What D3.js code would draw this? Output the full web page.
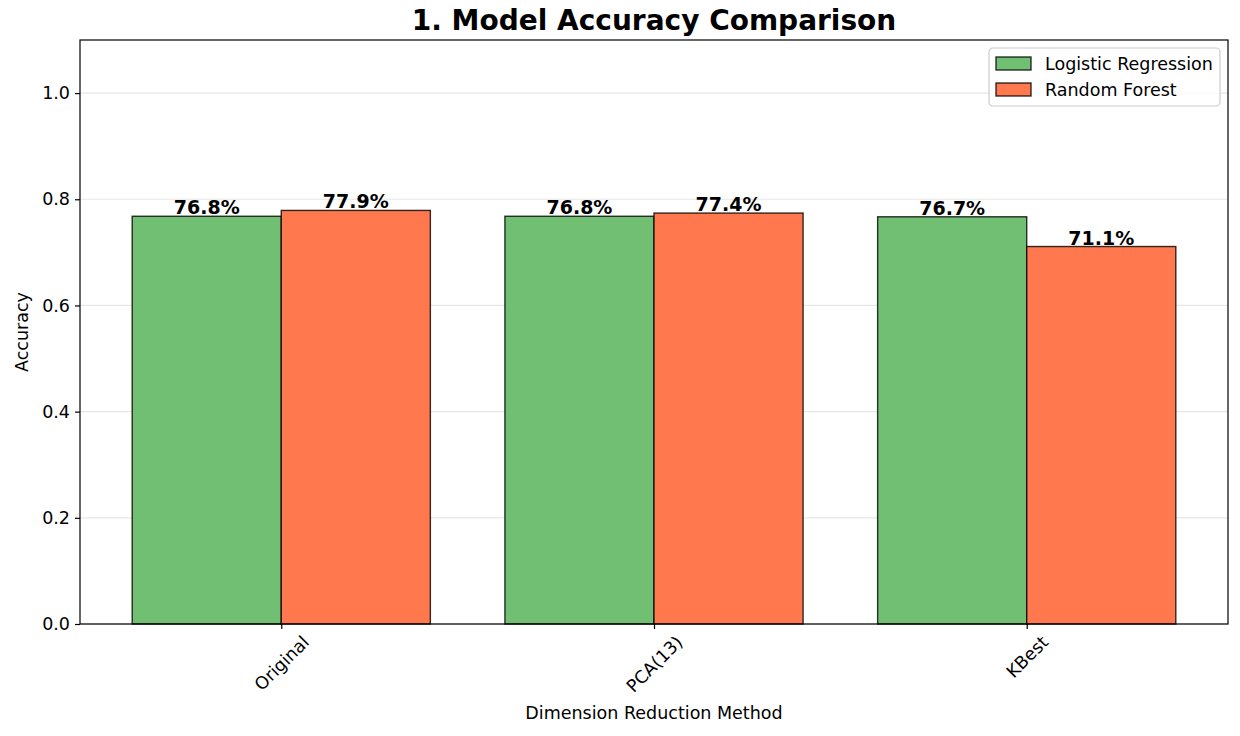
<!DOCTYPE html>
<html>
<head>
<meta charset="utf-8">
<script src="https://cdn.jsdelivr.net/npm/d3@7"></script>
<style>
  body { margin: 0; background: #fff; }
  text { font-family: "DejaVu Sans", sans-serif; }
</style>
</head>
<body>
<svg id="chart" width="1240" height="736"></svg>
<script>
// data
const methods = ["Original", "PCA(13)", "KBest"];
const logisticAcc = [0.768, 0.768, 0.767];
const forestAcc = [0.779, 0.774, 0.711];
const seriesNames = ["Logistic Regression", "Random Forest"];
const yTicks = [0.0, 0.2, 0.4, 0.6, 0.8, 1.0];

const colors = ["#71bf73", "#ff784e"];
const fs = 17.5; // base font size

let margin = {top: 40, right: 12, bottom: 112, left: 80};
let width = 1240 - margin.left - margin.right,
    height = 736 - margin.top - margin.bottom;

let svg = d3.select("#chart"),
    g = svg.append("g").attr("transform", "translate(" + margin.left + "," + margin.top + ")");

// matplotlib-like linear x: bars at 0,1,2, width 0.4, 5% margins
let x = d3.scaleLinear().domain([-0.54, 2.54]).range([0, width]);
let y = d3.scaleLinear().domain([0, 1.1]).range([height, 0]);
let barW = 0.4;

// grid
g.selectAll(".grid").data(yTicks).enter().append("line")
  .attr("x1", 0).attr("x2", width)
  .attr("y1", d => y(d)).attr("y2", d => y(d))
  .attr("stroke", "#b0b0b0").attr("stroke-opacity", 0.3).attr("stroke-width", 1.2);

let series = [logisticAcc, forestAcc];
series.forEach(function(vals, s) {
  let offset = s === 0 ? -barW : 0;
  g.selectAll(".bar" + s).data(vals).enter().append("rect")
    .attr("x", (d, i) => x(i + offset))
    .attr("width", x(barW) - x(0))
    .attr("y", d => y(d))
    .attr("height", d => height - y(d))
    .attr("fill", colors[s])
    .attr("stroke", "#000").attr("stroke-opacity", 0.8).attr("stroke-width", 1.4);

  g.selectAll(".lab" + s).data(vals).enter().append("text")
    .attr("x", (d, i) => x(i + offset + barW / 2))
    .attr("y", d => y(d) - 2)
    .attr("text-anchor", "middle")
    .style("font-size", "19px").style("font-weight", "bold")
    .text(d => (d * 100).toFixed(1) + "%");
});

// frame
g.append("rect").attr("width", width).attr("height", height)
  .attr("fill", "none").attr("stroke", "#000").attr("stroke-width", 1.2);

// y axis
let yAxis = g.append("g")
  .call(d3.axisLeft(y).tickValues(yTicks).tickFormat(d3.format(".1f")).tickSize(5).tickPadding(5));
yAxis.select(".domain").remove();
yAxis.selectAll("text").style("font-size", fs + "px").attr("fill", "#000");
yAxis.selectAll("line").attr("stroke-width", 1.2);

// x axis, rotated labels centred on the tick like matplotlib rotation=45
let xAxis = g.append("g").attr("transform", "translate(0," + height + ")")
  .call(d3.axisBottom(x).tickValues([0, 1, 2]).tickFormat(i => methods[i]).tickSize(5));
xAxis.select(".domain").remove();
xAxis.selectAll("line").attr("stroke-width", 1.2);
xAxis.selectAll("text")
  .style("font-size", fs + "px").attr("fill", "#000")
  .attr("dy", null)
  .attr("text-anchor", "middle")
  .attr("dominant-baseline", "central")
  .each(function() {
    let t = d3.select(this),
        w = this.getComputedTextLength(),
        h = fs * 1.16;
    let half = (w + h) * Math.SQRT1_2 / 2;
    t.attr("y", 0).attr("transform", "translate(0," + (8 + half) + ") rotate(-45)");
  });

// axis titles
g.append("text").attr("x", width / 2).attr("y", height + 95)
  .attr("text-anchor", "middle").style("font-size", fs + "px")
  .text("Dimension Reduction Method");
g.append("text").attr("transform", "translate(" + (-52) + "," + (height / 2) + ") rotate(-90)")
  .attr("text-anchor", "middle").style("font-size", fs + "px")
  .text("Accuracy");

// title
svg.append("text").attr("x", margin.left + width / 2).attr("y", 30)
  .attr("text-anchor", "middle").style("font-size", "28px").style("font-weight", "bold")
  .text("1. Model Accuracy Comparison");

// legend
let lg = g.append("g").attr("transform", "translate(" + (width - 239) + ",8)");
lg.append("rect").attr("width", 231).attr("height", 58).attr("rx", 4)
  .attr("fill", "#fff").attr("fill-opacity", 0.8)
  .attr("stroke", "#cccccc").attr("stroke-width", 1.2);
seriesNames.forEach(function(name, i) {
  let row = lg.append("g").attr("transform", "translate(7," + (9 + i * 26) + ")");
  row.append("rect").attr("width", 35).attr("height", 13)
    .attr("fill", colors[i]).attr("stroke", "#000").attr("stroke-opacity", 0.8).attr("stroke-width", 1.4);
  row.append("text").attr("x", 49).attr("y", 6.5).attr("dominant-baseline", "central")
    .style("font-size", fs + "px").text(name);
});
</script>
</body>
</html>
